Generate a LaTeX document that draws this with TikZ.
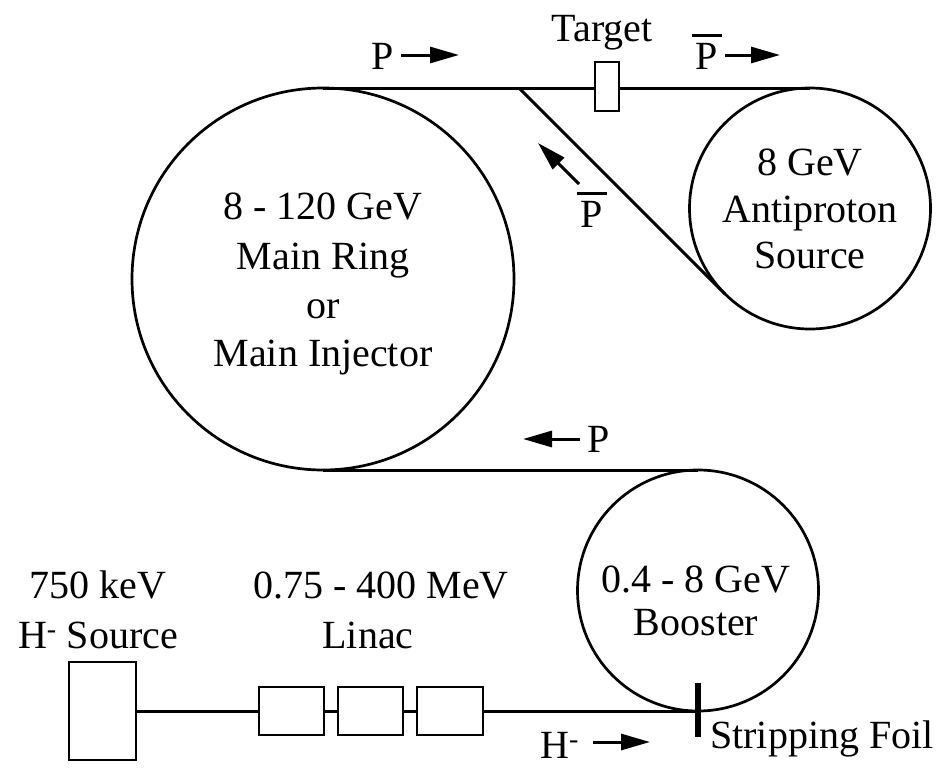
\documentclass[tikz,border=0pt]{standalone}
\usepackage{fontspec}
\setmainfont{Liberation Serif}
\usetikzlibrary{arrows.meta}
\newcommand{\pbarsym}{\leavevmode\vbox{\hrule height 2.8pt \kern 6pt \hbox{\kern 4pt P\kern 4pt}}}
\begin{document}
\begin{tikzpicture}[x=1pt,y=-1pt,
  ring/.style={draw,circle,line width=2.7pt,inner sep=0pt,outer sep=0pt},
  boxn/.style={draw,rectangle,line width=2.7pt,inner sep=0pt,outer sep=0pt,fill=white},
  beam/.style={line width=3pt},
  dirarrow/.style={line width=3pt,-{Triangle[length=29pt,width=16pt]}},
  lbl/.style={font=\fontsize{40}{48}\selectfont,inner sep=0pt,anchor=base},
  foil/.style={line width=6pt}]
\useasboundingbox (0,0) rectangle (952,771);

% rings
\node[ring,minimum size=382pt] (mr) at (323,279) {};
\node[ring,minimum size=241pt] (ap) at (810,208.5) {};
\node[ring,minimum size=241pt] (bo) at (698,590.5) {};

% beam lines
\coordinate (dj) at (519,88);
\draw[beam] (mr.north) -- (ap.north);
\draw[beam] (dj) -- (ap.225);
\draw[beam] (mr.south) -- (bo.north);

% target
\node[boxn,minimum width=24pt,minimum height=49pt] (tg) at (607,86.5) {};

% source and linac
\node[boxn,minimum width=67pt,minimum height=98pt] (src) at (102.5,711) {};
\node[boxn,minimum width=65pt,minimum height=48pt] (l1) at (291.5,711) {};
\node[boxn,minimum width=65pt,minimum height=48pt] (l2) at (370.5,711) {};
\node[boxn,minimum width=66pt,minimum height=48pt] (l3) at (450,711) {};
\draw[beam] (src.east) -- (l1.west);
\draw[beam] (l1.east) -- (l2.west);
\draw[beam] (l2.east) -- (l3.west);
\draw[beam] (l3.east) -- (bo.south);

% stripping foil
\coordinate (ft) at (698,683);
\coordinate (fb) at (698,737);
\draw[foil] (ft) -- (fb);

% direction arrows
\coordinate (a1s) at (401,55); \coordinate (a1e) at (459,55);
\coordinate (a2s) at (725,55); \coordinate (a2e) at (780,55);
\coordinate (a3s) at (579,184); \coordinate (a3e) at (538,143);
\coordinate (a4s) at (580,439); \coordinate (a4e) at (523,439);
\coordinate (a5s) at (593,742); \coordinate (a5e) at (650,742);
\draw[dirarrow] (a1s) -- (a1e);
\draw[dirarrow] (a2s) -- (a2e);
\draw[dirarrow] (a3s) -- (a3e);
\draw[dirarrow] (a4s) -- (a4e);
\draw[dirarrow] (a5s) -- (a5e);

% labels
\node[lbl] (t1) at (323,219) {8 - 120 GeV};
\node[lbl] (t2) at (323,269) {Main Ring};
\node[lbl] (t3) at (323,318) {or};
\node[lbl] (t4) at (323,366) {Main Injector};

\node[lbl] (t5) at (810,175) {8 GeV};
\node[lbl] (t6) at (810,222) {Antiproton};
\node[lbl] (t7) at (810,268) {Source};

\node[lbl] (t8) at (696,592) {0.4 - 8 GeV};
\node[lbl] (t9) at (696,635) {Booster};

\node[lbl] (t10) at (98,598) {750 keV};
\node[lbl] (t11) at (98,648) {H\textsuperscript{-} Source};
\node[lbl] (t12) at (381,598) {0.75 - 400 MeV};
\node[lbl] (t13) at (368,648) {Linac};

\node[lbl] (t14) at (602,41) {Target};
\node[lbl] (t15) at (383,69) {P};
\node[lbl] (t16) at (707,69) {\pbarsym};
\node[lbl] (t17) at (592,227) {\pbarsym};
\node[lbl] (t18) at (599,452) {P};
\node[lbl,anchor=base west] (t19) at (540,758) {H\textsuperscript{-}};
\node[lbl,anchor=base west] (t20) at (710,748) {Stripping Foil};
\end{tikzpicture}
\end{document}
